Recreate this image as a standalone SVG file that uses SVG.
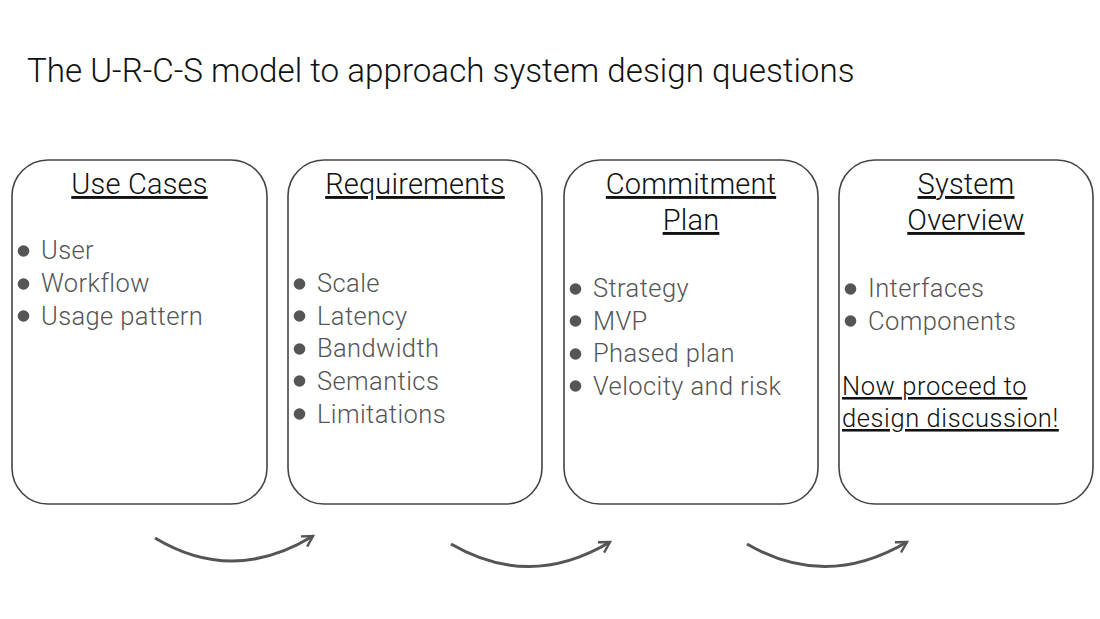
<svg xmlns="http://www.w3.org/2000/svg" width="1100" height="619" viewBox="0 0 1100 619">
<defs>
<style>
text{font-family:Roboto,"Liberation Sans",Arial,sans-serif;font-weight:300}
.title{font-size:33.2px;fill:#111}
.box{fill:#fff;stroke:#444;stroke-width:1.6}
.head{font-size:29px;fill:#111;text-anchor:middle;text-decoration:underline;letter-spacing:0.2px}
.item{font-size:25.5px;fill:#555;letter-spacing:0.4px}
.dot{fill:#555}
.note{font-size:25.5px;fill:#111;text-decoration:underline;letter-spacing:0.6px}
.arrow{fill:none;stroke:#555;stroke-width:3;marker-end:url(#ah)}
</style>
<marker id="ah" viewBox="0 0 10 10" refX="8" refY="5" markerWidth="5" markerHeight="5" orient="auto" markerUnits="strokeWidth">
<path d="M1,1 L8,5 L1,9" fill="none" stroke="#555" stroke-width="1.6"/>
</marker>
</defs>
<rect width="1100" height="619" fill="#fff"/>
<text class="title" x="27" y="82">The U-R-C-S model to approach system design questions</text>

<g id="use-cases">
<rect class="box" x="12" y="160" width="255" height="344" rx="36"/>
<text class="head" x="139.5" y="194">Use Cases</text>
<circle class="dot" cx="23.5" cy="251" r="5.8"/><text class="item" x="41" y="259">User</text>
<circle class="dot" cx="23.5" cy="284" r="5.8"/><text class="item" x="41" y="292">Workflow</text>
<circle class="dot" cx="23.5" cy="316" r="5.8"/><text class="item" x="41" y="325">Usage pattern</text>
</g>

<g id="requirements">
<rect class="box" x="288" y="160" width="254" height="344" rx="36"/>
<text class="head" x="415" y="194">Requirements</text>
<circle class="dot" cx="299.5" cy="284" r="5.8"/><text class="item" x="317" y="292">Scale</text>
<circle class="dot" cx="299.5" cy="316" r="5.8"/><text class="item" x="317" y="325">Latency</text>
<circle class="dot" cx="299.5" cy="349" r="5.8"/><text class="item" x="317" y="357">Bandwidth</text>
<circle class="dot" cx="299.5" cy="381" r="5.8"/><text class="item" x="317" y="390">Semantics</text>
<circle class="dot" cx="299.5" cy="414" r="5.8"/><text class="item" x="317" y="423">Limitations</text>
</g>

<g id="commitment-plan">
<rect class="box" x="564" y="160" width="254" height="344" rx="36"/>
<text class="head" x="691" y="194">Commitment</text>
<text class="head" x="691" y="230">Plan</text>
<circle class="dot" cx="575.5" cy="289" r="5.8"/><text class="item" x="593" y="297">Strategy</text>
<circle class="dot" cx="575.5" cy="321" r="5.8"/><text class="item" x="593" y="330">MVP</text>
<circle class="dot" cx="575.5" cy="354" r="5.8"/><text class="item" x="593" y="362">Phased plan</text>
<circle class="dot" cx="575.5" cy="386" r="5.8"/><text class="item" x="593" y="395">Velocity and risk</text>
</g>

<g id="system-overview">
<rect class="box" x="839" y="160" width="254" height="344" rx="36"/>
<text class="head" x="966" y="194">System</text>
<text class="head" x="966" y="230">Overview</text>
<circle class="dot" cx="850.5" cy="289" r="5.8"/><text class="item" x="868" y="297">Interfaces</text>
<circle class="dot" cx="850.5" cy="321" r="5.8"/><text class="item" x="868" y="330">Components</text>
<text class="note" x="842" y="395">Now proceed to</text>
<text class="note" x="842" y="427">design discussion!</text>
</g>

<g id="connectors">
<path class="arrow" d="M155,538 Q233,585 313,536"/>
<path class="arrow" d="M451,544 Q530,590 610,542"/>
<path class="arrow" d="M747,544 Q826,590 907,542"/>
</g>
</svg>
